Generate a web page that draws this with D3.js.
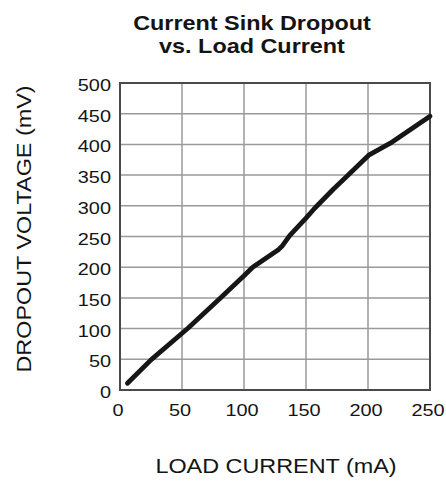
<!DOCTYPE html>
<html>
<head>
<meta charset="utf-8">
<script src="https://cdn.jsdelivr.net/npm/d3@7"></script>
<style>
  body { margin: 0; background: #fff; }
  text { font-family: "Liberation Sans", Arial, sans-serif; fill: #141414; }
  .grid line { stroke: #9a9a9a; stroke-width: 1.5; }
  .frame { fill: none; stroke: #4a4a4a; stroke-width: 2; }
  .curve { fill: none; stroke: #161616; stroke-width: 4.8; stroke-linecap: round; stroke-linejoin: round; }
</style>
</head>
<body>
<div id="chart"></div>
<script>
// values
const titleLines = ["Current Sink Dropout", "vs. Load Current"];
const xLabel = "LOAD CURRENT (mA)";
const yLabel = "DROPOUT VOLTAGE (mV)";
const xTicks = [0, 50, 100, 150, 200, 250];
const yTicks = [0, 50, 100, 150, 200, 250, 300, 350, 400, 450, 500];
const loadCurrent = [6, 25, 55, 81, 100, 107, 128, 131, 137, 150, 157, 172, 183, 201, 218, 250];
const dropoutMv   = [11, 49, 101, 150, 186, 200, 229, 235, 252, 280, 296, 327, 348, 383, 402, 446];

const width = 446, height = 482;
const margin = {top: 83, right: 16, bottom: 92, left: 120};
const stretch = 1.17; // text in the reference is drawn a bit wide

const svg = d3.select("#chart").append("svg")
  .attr("width", width)
  .attr("height", height);

const x = d3.scaleLinear().domain([0, 250]).range([margin.left, width - margin.right]);
const y = d3.scaleLinear().domain([0, 500]).range([height - margin.bottom, margin.top]);

// gridlines
const grid = svg.append("g").attr("class", "grid");
grid.selectAll(".v").data(xTicks.slice(1, -1)).enter().append("line")
  .attr("x1", d => x(d)).attr("x2", d => x(d))
  .attr("y1", y(0)).attr("y2", y(500));
grid.selectAll(".h").data(yTicks.slice(1, -1)).enter().append("line")
  .attr("x1", x(0)).attr("x2", x(250))
  .attr("y1", d => y(d)).attr("y2", d => y(d));

svg.append("rect").attr("class", "frame")
  .attr("x", x(0)).attr("y", y(500))
  .attr("width", x(250) - x(0)).attr("height", y(0) - y(500));

// tick labels
svg.append("g").selectAll("text").data(yTicks).enter().append("text")
  .attr("transform", d => `translate(${x(0) - 9},${y(d) + 8}) scale(${stretch},1)`)
  .attr("text-anchor", "end")
  .attr("font-size", 17)
  .text(d => d);

svg.append("g").selectAll("text").data(xTicks).enter().append("text")
  .attr("transform", d => `translate(${x(d) - 2},${y(0) + 26}) scale(${stretch},1)`)
  .attr("text-anchor", "middle")
  .attr("font-size", 17)
  .text(d => d);

// curve
const line = d3.line()
  .x((d, i) => x(loadCurrent[i]))
  .y(d => y(d));

svg.append("path")
  .datum(dropoutMv)
  .attr("class", "curve")
  .attr("d", line);

// title
svg.append("g").selectAll("text").data(titleLines).enter().append("text")
  .attr("transform", (d, i) => `translate(252,${30 + i * 23}) scale(${stretch},1)`)
  .attr("text-anchor", "middle")
  .attr("font-size", 20)
  .attr("font-weight", "bold")
  .text(d => d);

// axis titles
svg.append("text")
  .attr("transform", `translate(276,473) scale(${stretch},1)`)
  .attr("text-anchor", "middle")
  .attr("font-size", 20)
  .text(xLabel);

svg.append("text")
  .attr("transform", `translate(31,229) rotate(-90) scale(${stretch},1)`)
  .attr("text-anchor", "middle")
  .attr("font-size", 20)
  .text(yLabel);
</script>
</body>
</html>
